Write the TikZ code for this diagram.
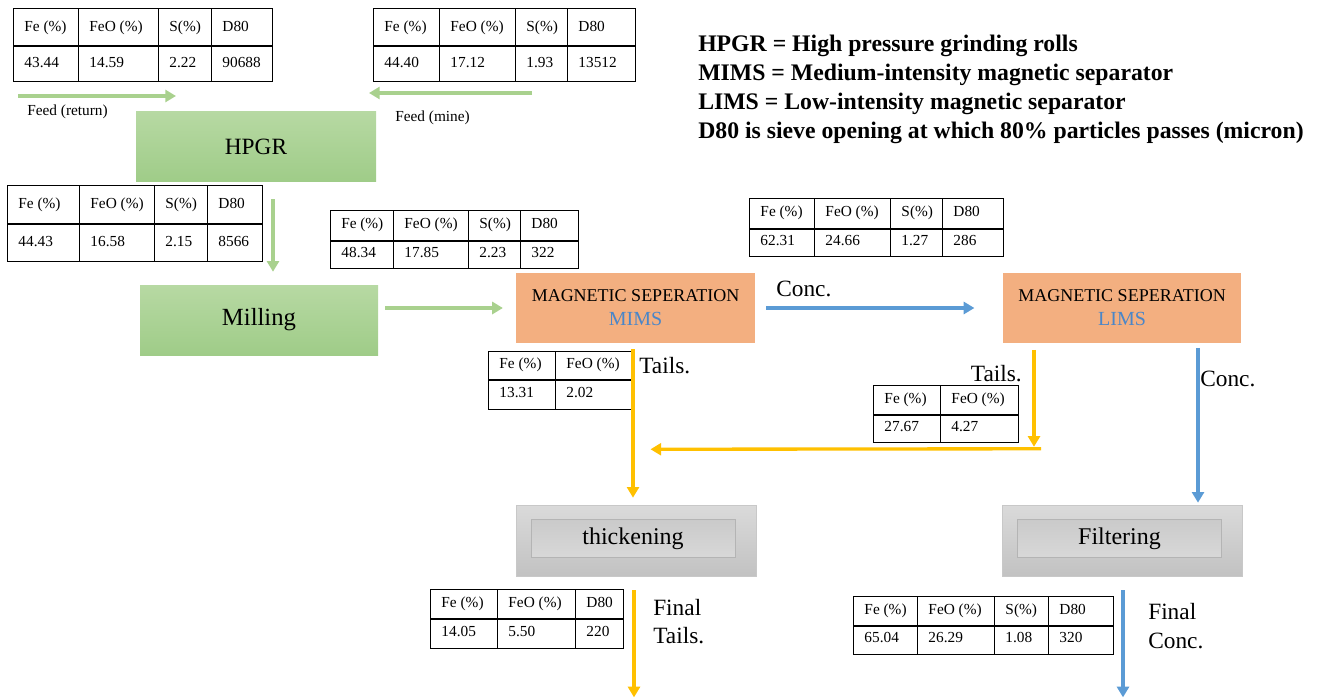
\documentclass[tikz,border=0pt]{standalone}
\usepackage{fontspec}
\setmainfont{Liberation Serif}
\usepackage{array}
\usetikzlibrary{arrows.meta,calc}
\newdimen\px \px=0.75pt
\newcolumntype{W}[1]{p{\dimexpr#1\px-2\tabcolsep-\arrayrulewidth\relax}}
\newcommand\rs[1]{\rule[\dimexpr-#1\px*2/5\relax]{0pt}{#1\px}}
\setlength\tabcolsep{7.5pt}
\setlength\arrayrulewidth{0.9pt}
\definecolor{gtop}{HTML}{B7D9A3}
\definecolor{gbot}{HTML}{9FCC88}
\definecolor{orng}{HTML}{F3AF80}
\definecolor{tblue}{HTML}{4A86C8}
\definecolor{agreen}{HTML}{A9D18E}
\definecolor{ablue}{HTML}{5B9BD5}
\definecolor{ayel}{HTML}{FFC000}
\definecolor{gr1}{HTML}{DADADA}
\definecolor{gr2}{HTML}{C2C2C2}
\definecolor{grb}{HTML}{C8C8C8}
\definecolor{gi1}{HTML}{CACACA}
\definecolor{gi2}{HTML}{D8D8D8}
\definecolor{gib}{HTML}{B4B4B4}
\tikzset{
  gbox/.style={top color=gtop, bottom color=gbot, draw=none, minimum width=180pt, minimum height=53pt, inner sep=0pt},
  obox/.style={fill=orng, draw=none, minimum width=179pt, minimum height=52.5pt, inner sep=0pt, align=center, font=\fontsize{13.5}{18}\selectfont},
  graybox/.style={top color=gr1, bottom color=gr2, draw=grb, line width=.5pt, minimum width=180pt, minimum height=53.25pt, inner sep=0pt},
  grayin/.style={top color=gi1, bottom color=gi2, draw=gib, line width=.5pt, minimum width=153pt, minimum height=28.5pt, inner sep=0pt, font=\fontsize{18}{20}\selectfont},
  tbl/.style={inner sep=0pt, anchor=north west, font=\fontsize{11.5}{13}\selectfont},
  lbl/.style={inner sep=0pt, anchor=base west, font=\fontsize{17.5}{20}\selectfont},
  smalllbl/.style={inner sep=0pt, anchor=base west, font=\fontsize{11.5}{13}\selectfont},
  legend/.style={inner sep=0pt, anchor=base west, font=\bfseries\fontsize{17.8}{20}\selectfont},
  garr/.style={draw=agreen, line width=2.8pt, -{Triangle[length=8pt,width=9pt]}},
  yarr/.style={draw=ayel, line width=2.5pt, -{Triangle[length=8pt,width=9pt]}},
  barr/.style={draw=ablue, line width=2.5pt, -{Triangle[length=8pt,width=9pt]}}
}
\begin{document}
\begin{tikzpicture}[x=0.75pt, y=-0.75pt]
\useasboundingbox (0,0) rectangle (1317,699);

% process boxes
\node[gbox, font=\fontsize{17.5}{20}\selectfont] (hpgr) at (256,146.5) {HPGR};
\node[gbox, minimum width=178.5pt, minimum height=52.5pt, font=\fontsize{18.5}{20}\selectfont] (mill) at (259,320) {Milling};
\node[obox] (mims) at (635.5,308) {MAGNETIC SEPERATION\\\textcolor{tblue}{\fontsize{15}{18}\selectfont MIMS}};
\node[obox] (lims) at (1122,307.5) {MAGNETIC SEPERATION\\\textcolor{tblue}{\fontsize{15}{18}\selectfont LIMS}};
\node[graybox] (thick) at (636,540.5) {};
\node[grayin] (thickin) at (633,538.5) {thickening};
\node[graybox] (filt) at (1122.5,540.5) {};
\node[grayin] (filtin) at (1119.5,538.5) {Filtering};

% tables
\node[tbl] (t1) at (13,8) {\begin{tabular}{|W{65}|W{80}|W{53}|W{61}|}\hline
\rs{36}Fe (\%) & FeO (\%) & S(\%) & D80\\\hline
\rs{34}43.44 & 14.59 & 2.22 & 90688\\\hline\end{tabular}};
\node[tbl] (t2) at (373,8) {\begin{tabular}{|W{66}|W{76}|W{52}|W{68}|}\hline
\rs{36}Fe (\%) & FeO (\%) & S(\%) & D80\\\hline
\rs{34}44.40 & 17.12 & 1.93 & 13512\\\hline\end{tabular}};
\node[tbl] (t3) at (7,185) {\begin{tabular}{|W{72}|W{75}|W{53}|W{55}|}\hline
\rs{37}Fe (\%) & FeO (\%) & S(\%) & D80\\\hline
\rs{36}44.43 & 16.58 & 2.15 & 8566\\\hline\end{tabular}};
\node[tbl] (t4) at (330,210) {\begin{tabular}{|W{63}|W{75}|W{52}|W{58}|}\hline
\rs{29}Fe (\%) & FeO (\%) & S(\%) & D80\\\hline
\rs{26}48.34 & 17.85 & 2.23 & 322\\\hline\end{tabular}};
\node[tbl] (t5) at (749,198) {\begin{tabular}{|W{65}|W{76}|W{52}|W{61}|}\hline
\rs{29}Fe (\%) & FeO (\%) & S(\%) & D80\\\hline
\rs{26}62.31 & 24.66 & 1.27 & 286\\\hline\end{tabular}};
\node[tbl] (t6) at (488,351) {\begin{tabular}{|W{67}|W{77}|}\hline
\rs{27}Fe (\%) & FeO (\%)\\\hline
\rs{28}13.31 & 2.02\\\hline\end{tabular}};
\node[tbl] (t7) at (873,385) {\begin{tabular}{|W{67}|W{78}|}\hline
\rs{28}Fe (\%) & FeO (\%)\\\hline
\rs{26}27.67 & 4.27\\\hline\end{tabular}};
\node[tbl] (t8) at (430,589) {\begin{tabular}{|W{67}|W{78}|W{48}|}\hline
\rs{28}Fe (\%) & FeO (\%) & D80\\\hline
\rs{28}14.05 & 5.50 & 220\\\hline\end{tabular}};
\node[tbl] (t9) at (853,596) {\begin{tabular}{|W{64}|W{77}|W{54}|W{65}|}\hline
\rs{28}Fe (\%) & FeO (\%) & S(\%) & D80\\\hline
\rs{27}65.04 & 26.29 & 1.08 & 320\\\hline\end{tabular}};

% labels
\node[smalllbl] (lfr) at (27,115) {Feed (return)};
\node[smalllbl] (lfm) at (395,122) {Feed (mine)};
\node[lbl] (lc1) at (776,296) {Conc.};
\node[lbl] (lt1) at (639,373) {Tails.};
\node[lbl, anchor=base east] (lt2) at (1022,381) {Tails.};
\node[lbl] (lc2) at (1200,386) {Conc.};
\node[lbl] (lf1) at (653,615) {Final};
\node[lbl] (lt3) at (653,643) {Tails.};
\node[lbl] (lf2) at (1148,619) {Final};
\node[lbl] (lc3) at (1148,648) {Conc.};

% legend
\node[legend] (lg1) at (698,52) {HPGR = High pressure grinding rolls};
\node[legend] (lg2) at (698,80) {MIMS = Medium-intensity magnetic separator};
\node[legend] (lg3) at (698,109) {LIMS = Low-intensity magnetic separator};
\node[legend] (lg4) at (698,138) {D80 is sieve opening at which 80\% particles passes (micron)};

% feed arrows
\coordinate (fr0) at (18,96);
\coordinate (fr1) at (176,96);
\coordinate (fm0) at (532,93);
\coordinate (fm1) at (369,93);
\draw[garr] (fr0) -- (fr1);
\draw[garr] (fm0) -- (fm1);

% flow arrows
\draw[garr] ($(hpgr.south)+(17,17)$) -- ($(mill.north)+(14,-13)$);
\draw[garr, shorten <=5.25pt, shorten >=9.75pt] (mill.east |- mims.west) -- (mims.west);
\draw[barr, shorten <=8.25pt, shorten >=21pt] (mims.east) -- (lims.west |- mims.east);
\draw[yarr] ($(mims.south)+(-2.5,6)$) -- ($(thick.north)+(-3,-7)$);
\draw[yarr] ($(lims.south)+(-88,7)$) -- ($(lims.south)+(-88,104)$);
\draw[yarr] ($(lims.south)+(-81,106)$) -- ($(mims.south)+(15,106)$);
\draw[barr] ($(lims.south)+(76,5)$) -- ($(filt.north)+(75.5,-2)$);
\draw[yarr] ($(thick.south)+(-2,14)$) -- ($(thick.south)+(-2,121)$);
\draw[barr] ($(filt.south)+(0.5,14)$) -- ($(filt.south)+(0.5,121)$);
\end{tikzpicture}
\end{document}
